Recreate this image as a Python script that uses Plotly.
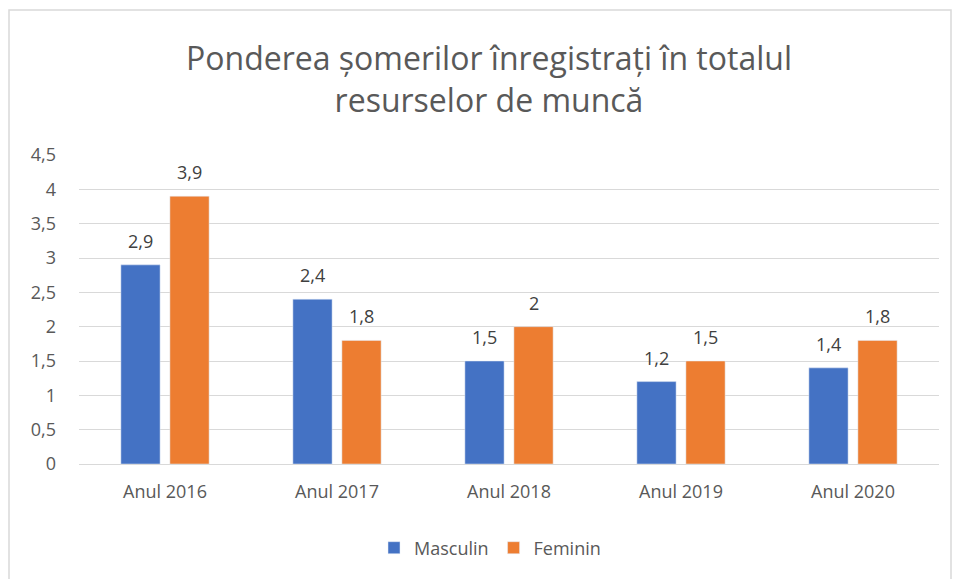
import plotly.graph_objects as go

categories = ["Anul 2016", "Anul 2017", "Anul 2018", "Anul 2019", "Anul 2020"]
masculin = [2.9, 2.4, 1.5, 1.2, 1.4]
feminin = [3.9, 1.8, 2.0, 1.5, 1.8]
y_ticks = [0, 0.5, 1, 1.5, 2, 2.5, 3, 3.5, 4, 4.5]
y_tick_labels = ["0", "0,5", "1", "1,5", "2", "2,5", "3", "3,5", "4", "4,5"]

def fmt(v):
    return ("%g" % v).replace(".", ",")

FONT = "Open Sans"
TXT = "#595959"
LBL = "#404040"

fig = go.Figure()
fig.add_trace(go.Bar(x=categories, y=masculin, name="Masculin", marker_color="#4472C4"))
fig.add_trace(go.Bar(x=categories, y=feminin, name="Feminin", marker_color="#ED7D31"))

L, R, T, B = 79, 15, 155, 115
W, H = 954, 579
pw, ph = W - L - R, H - T - B

def px_x(p):
    return (p - L) / pw

def px_y(p):
    return (H - B - p) / ph

annotations = []
for series, shift in ((masculin, -24.5), (feminin, 24.5)):
    for c, v in zip(categories, series):
        annotations.append(dict(
            x=c, y=v, xref="x", yref="y", text=fmt(v), showarrow=False,
            xshift=shift, yshift=24, yanchor="middle", xanchor="center",
            font=dict(family=FONT, size=18, color=LBL),
        ))

fig.update_layout(
    width=W, height=H,
    margin=dict(l=L, r=R, t=T, b=B),
    paper_bgcolor="white", plot_bgcolor="white",
    barmode="group", bargap=0.43, bargroupgap=0.2,
    title=dict(
        text="Ponderea șomerilor înregistrați în totalul<br>resurselor de muncă",
        x=489 / W, xanchor="center", y=1 - 70 / H, yanchor="middle",
        font=dict(family=FONT, size=32, color=TXT),
    ),
    font=dict(family=FONT, color=TXT),
    showlegend=True,
    legend=dict(
        orientation="h", x=px_x(490), xanchor="center", y=px_y(548), yanchor="middle",
        font=dict(family=FONT, size=18, color=TXT), itemwidth=30,
        traceorder="normal",
    ),
    xaxis=dict(
        showgrid=False, showline=False, ticks="", tickfont=dict(size=18, color=TXT),
        ticklabelstandoff=15,
    ),
    yaxis=dict(
        range=[0, 4.5], tickvals=y_ticks, ticktext=y_tick_labels,
        showgrid=True, gridcolor="#D9D9D9", gridwidth=1, zeroline=True,
        zerolinecolor="#D9D9D9", zerolinewidth=1, showline=False, ticks="",
        tickfont=dict(size=18, color=TXT), ticklabelstandoff=22,
    ),
    annotations=annotations,
    shapes=[dict(
        type="rect", xref="paper", yref="paper",
        x0=px_x(9), x1=px_x(951), y0=px_y(600), y1=px_y(10),
        line=dict(color="#D9D9D9", width=1.5), fillcolor="rgba(0,0,0,0)", layer="below",
    )],
)

fig.write_html(
    "out.html",
    config={"displayModeBar": False},
    post_script="document.body.style.margin='0';document.body.style.padding='0';",
)
